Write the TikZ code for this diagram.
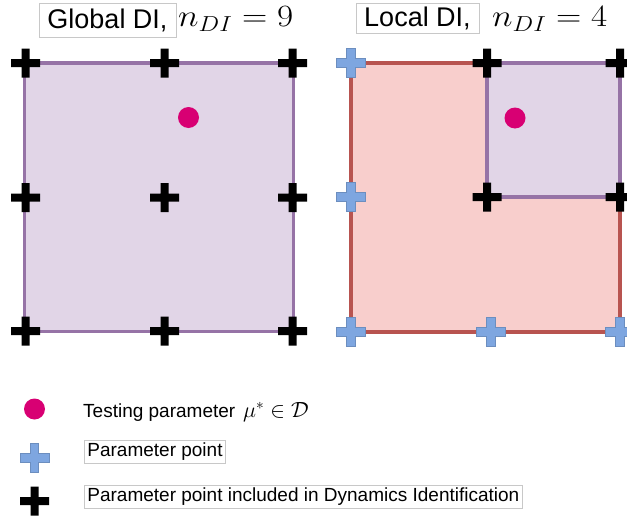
\documentclass[tikz,border=0pt]{standalone}
\usepackage{fix-cm}
\usepackage{fontspec}
\setsansfont{Liberation Sans}
\definecolor{purfill}{HTML}{E1D5E7}
\definecolor{purline}{HTML}{9673A6}
\definecolor{redfill}{HTML}{F8CECC}
\definecolor{redline}{HTML}{B85450}
\definecolor{bluefill}{HTML}{7EA6E0}
\definecolor{blueline}{HTML}{6C8EBF}
\definecolor{dotpink}{HTML}{D80073}
\definecolor{boxline}{HTML}{C8C8C8}
\tikzset{
  purplebox/.style={fill=purfill,draw=purline,line width=3.5pt},
  redbox/.style={fill=redfill,draw=redline,line width=3.5pt},
  testdot/.style={circle,fill=dotpink,minimum size=21pt,inner sep=0pt},
  titlebox/.style={draw=boxline,fill=white,line width=0.8pt,font=\sffamily\fontsize{27}{30}\selectfont,inner sep=0pt},
  legtext/.style={font=\sffamily\fontsize{19}{22}\selectfont,text height=14pt,text depth=4.5pt,inner xsep=3pt,inner ysep=2pt},
  legbox/.style={legtext,draw=boxline,fill=white,line width=0.8pt},
  mathlabel/.style={font=\fontsize{31}{34}\selectfont,inner sep=0pt,xscale=1.13},
  legmath/.style={font=\fontsize{22}{24}\selectfont,inner sep=0pt},
  pics/blackcross/.style={code={
    \fill[black] (-14.5,-4) -- (-4,-4) -- (-4,-14.5) -- (4,-14.5) -- (4,-4) -- (14.5,-4)
      -- (14.5,4) -- (4,4) -- (4,14.5) -- (-4,14.5) -- (-4,4) -- (-14.5,4) -- cycle;}},
  pics/bluecross/.style={code={
    \filldraw[fill=bluefill,draw=blueline,line width=1pt] (-14.5,-4.2) -- (-4.2,-4.2) -- (-4.2,-14.5) -- (4.2,-14.5) -- (4.2,-4.2) -- (14.5,-4.2)
      -- (14.5,4.2) -- (4.2,4.2) -- (4.2,14.5) -- (-4.2,14.5) -- (-4.2,4.2) -- (-14.5,4.2) -- cycle;}},
}
\begin{document}
\begin{tikzpicture}[x=1pt,y=-1pt]
\useasboundingbox (0,0) rectangle (627,522);
% ---------- Global DI ----------
\node[titlebox,minimum width=137pt,minimum height=34pt] (gtitle) at (107.5,20) {Global DI,};
\node[mathlabel,anchor=base west] (gmath) at (178,27) {$n_{DI}=9$};
\draw[purplebox] (24.5,63) rectangle (293.5,331.5);
\foreach \x/\n in {25.5/a,164.5/b,292.5/c}
  \foreach \y/\m in {63/1,197.5/2,331/3}
    \pic (g\n\m) at (\x,\y) {blackcross};
\node[testdot] (gdot) at (188.5,117.5) {};
% ---------- Local DI ----------
\node[titlebox,minimum width=123pt,minimum height=30pt] (ltitle) at (417.5,18) {Local DI,};
\node[mathlabel,anchor=base west] (lmath) at (492,27) {$n_{DI}=4$};
\draw[redbox] (351,63) rectangle (620,332);
\draw[purplebox] (487,63) rectangle (620,197);
\foreach \p/\n in {{(351,63)}/1,{(351,197)}/2,{(351,332)}/3,{(491,332)}/4,{(620,332)}/5}
  \pic (lb\n) at \p {bluecross};
\foreach \p/\n in {{(487,63)}/1,{(620,63)}/2,{(487,197)}/3,{(620,197)}/4}
  \pic (lk\n) at \p {blackcross};
\node[testdot] (ldot) at (515,118) {};
% ---------- Legend ----------
\node[testdot] (legdot) at (34.5,409) {};
\node[legtext,anchor=base west,inner xsep=0pt] (legdottext) at (83,417) {Testing parameter};
\node[legmath,anchor=base west] (legdotmath) at (243,417) {$\mu^{*}\in\mathcal{D}$};
\pic (legblue) at (34.5,458) {bluecross};
\node[legbox,anchor=west] (legbluetext) at (84,452) {Parameter point};
\pic (legblack) at (34.5,501) {blackcross};
\node[legbox,anchor=west] (legblacktext) at (84,497) {Parameter point included in Dynamics Identification};
\end{tikzpicture}
\end{document}
